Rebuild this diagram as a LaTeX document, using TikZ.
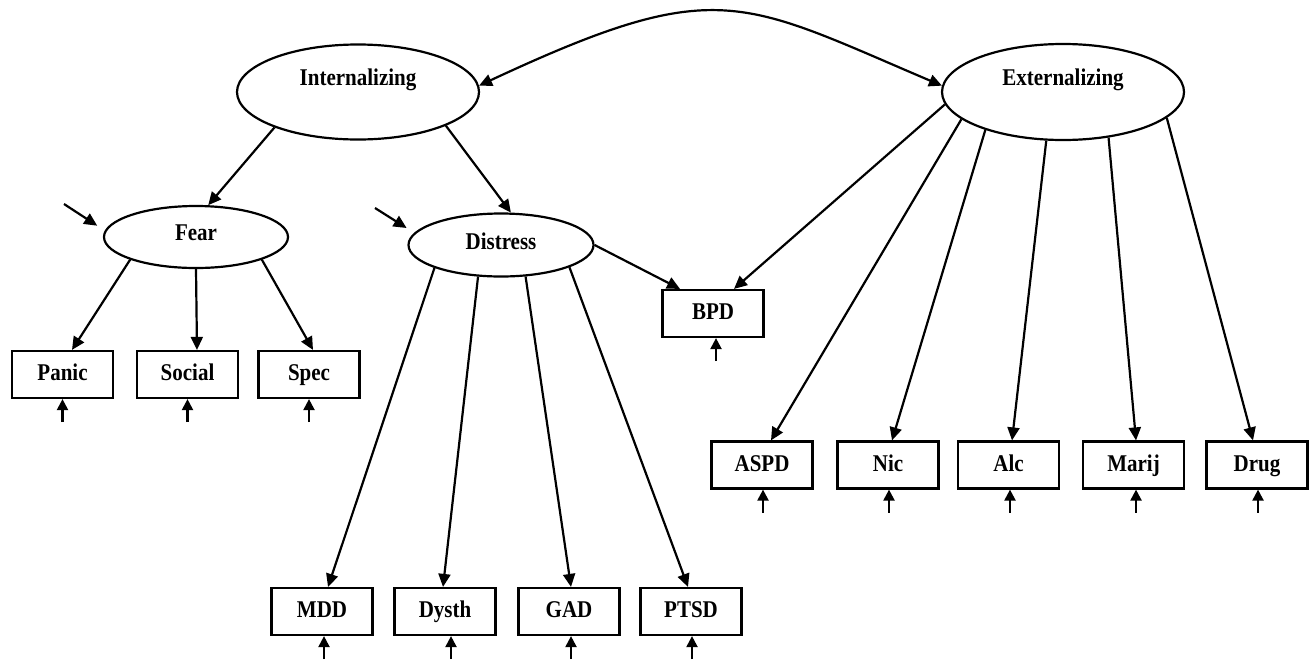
\documentclass[tikz,border=0pt]{standalone}
\usepackage{fontspec}
\setmainfont{Liberation Serif}[FakeStretch=0.875]
\usepackage{tikz}
\usetikzlibrary{arrows,arrows.meta,shapes,shapes.geometric,calc}

\begin{document}
\begin{tikzpicture}[x=0.5pt, y=-0.5pt,
    every node/.style={font=\bfseries\fontsize{12}{14}\selectfont},
    latent/.style={draw, ellipse, line width=1.1pt, inner sep=0pt},
    obs/.style={draw, rectangle, line width=1.1pt, minimum width=50.5pt, minimum height=23.5pt, inner sep=0pt, text height=8.5pt, text depth=2.5pt},
    arr/.style={line width=1.1pt, -{Triangle[length=6.5pt,width=6pt]}},
    err/.style={line width=1.1pt, -{Triangle[length=5.5pt,width=5.5pt]}}]
            \useasboundingbox (0,0) rectangle (1309,659);

            % factors
            \node[latent, minimum width=121pt, minimum height=47.5pt, label={[yshift=6pt]center:Internalizing}] (int) at (358,92) {};
            \node[latent, minimum width=121pt, minimum height=48pt, label={[yshift=6pt]center:Externalizing}] (ext) at (1063,92) {};
            \node[latent, minimum width=92pt, minimum height=31pt, label={[yshift=2pt]center:Fear}] (fear) at (196,237) {};
            \node[latent, minimum width=92.5pt, minimum height=31.5pt, label={[yshift=2pt]center:Distress}] (dis) at (501,245) {};

            % indicators
            \node[obs] (pan) at (62.5,374.5) {Panic};
            \node[obs] (soc) at (187.5,374.5) {Social};
            \node[obs] (spe) at (309,374.5) {Spec};
            \node[obs] (bpd) at (713,313.5) {BPD};
            \node[obs] (mdd) at (322,611.5) {MDD};
            \node[obs] (dys) at (445,611.5) {Dysth};
            \node[obs] (gad) at (569,611.5) {GAD};
            \node[obs] (pts) at (691,611.5) {PTSD};
            \node[obs] (asp) at (762,465) {ASPD};
            \node[obs] (nic) at (888,465) {Nic};
            \node[obs] (alc) at (1008.5,465) {Alc};
            \node[obs] (mar) at (1133.5,465) {Marij};
            \node[obs] (dru) at (1257,465) {Drug};

            \draw[line width=1.1pt, {Triangle[length=6.5pt,width=6pt]}-{Triangle[length=6.5pt,width=6pt]}] (int.3) .. controls +(238.6,-111.3) and +(-202.5,-86) .. (ext.177);

            \draw[arr] (int.203) -- (fear.69);
            \draw[arr] (int.339) -- (dis.73);

            \draw[arr] (fear.199) -- ([xshift=4.75pt]pan.north);
            \draw[arr] (fear.270) -- ([xshift=4.75pt]soc.north);
            \draw[arr] (fear.341) -- ([xshift=2pt]spe.north);

            \draw[arr] (dis.199) -- ([xshift=3pt]mdd.north);
            \draw[arr] (dis.234) -- ([xshift=-1pt]dys.north);
            \draw[arr] (dis.308) -- ([xshift=1pt]gad.north);
            \draw[arr] (dis.342) -- ([xshift=-1.5pt]pts.north);
            \draw[arr] (dis.0) -- ([xshift=-16.5pt]bpd.north);

            \draw[arr] (ext.186) -- ([xshift=10.5pt]bpd.north);
            \draw[arr] (ext.195) -- ([xshift=4.5pt]asp.north);
            \draw[arr] (ext.206) -- ([xshift=2pt]nic.north);
            \draw[arr] (ext.251) -- ([xshift=1.75pt]alc.north);
            \draw[arr] (ext.315) -- ([xshift=1.25pt]mar.north);
            \draw[arr] (ext.346) -- ([xshift=-2pt]dru.north);

            % residuals
            \coordinate (efear) at (64,204);
            \coordinate (edis) at (375,208);
            \draw[arr, shorten >=4.5pt] (efear) -- (fear.176);
            \draw[arr, shorten >=4.5pt] (edis) -- (dis.172);
            \foreach \n/\d in {pan/0,soc/0,spe/0,bpd/1.5,mdd/1,dys/3,gad/1,pts/0.5,asp/0.5,nic/0.5,alc/0.75,mar/1.25,dru/0.5}
              \draw[err] ([xshift=\d pt]\n.south) ++(0,23) -- ([xshift=\d pt]\n.south);
          \end{tikzpicture}
\end{document}
